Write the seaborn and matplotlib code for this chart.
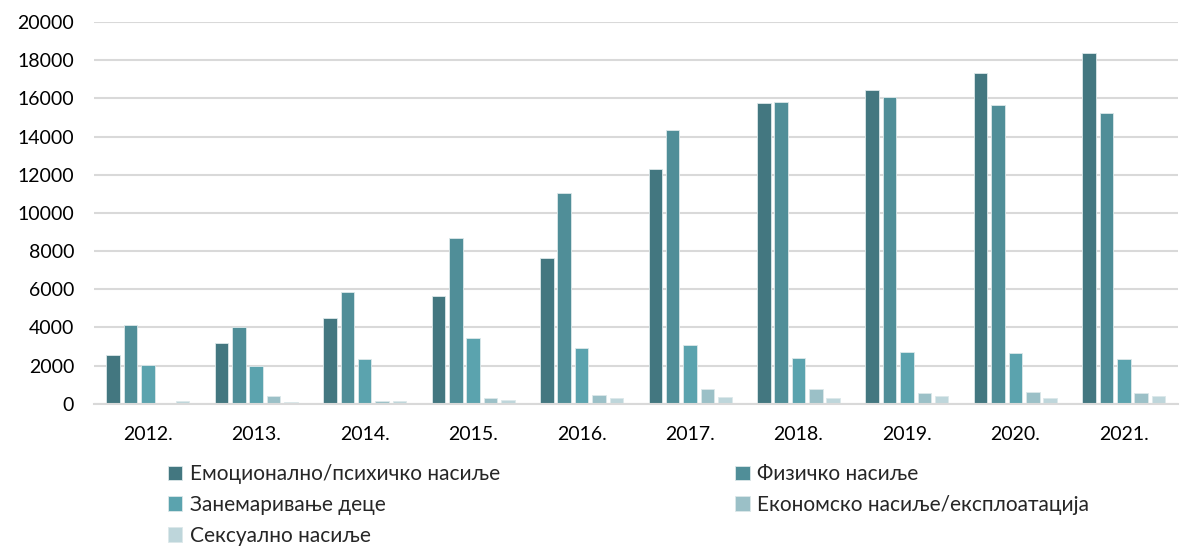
import pandas as pd
import numpy as np
import matplotlib
matplotlib.use("Agg")
import matplotlib.pyplot as plt
import seaborn as sns

years = ["2012.", "2013.", "2014.", "2015.", "2016.", "2017.", "2018.", "2019.", "2020.", "2021."]
types = ["Емоционално/психичко насиље", "Физичко насиље", "Занемаривање деце",
         "Економско насиље/експлоатација", "Сексуално насиље"]

emotional = [2570, 3210, 4520, 5640, 7640, 12290, 15740, 16420, 17330, 18360]
physical = [4140, 4015, 5860, 8690, 11030, 14345, 15810, 16060, 15650, 15220]
neglect = [2040, 2005, 2355, 3470, 2915, 3070, 2410, 2705, 2670, 2340]
economic = [0, 400, 160, 300, 440, 770, 785, 590, 630, 560]
sexual = [150, 120, 160, 200, 310, 350, 310, 420, 330, 435]

colors = ["#437780", "#508e98", "#5ba3ae", "#9bc0c7", "#bed6db"]

# long format for seaborn
series = [emotional, physical, neglect, economic, sexual]
rows = []
for t, vals in zip(types, series):
    for y, v in zip(years, vals):
        rows.append({"year": y, "type": t, "value": v})
df = pd.DataFrame(rows)

sns.set_style("white")
plt.rcParams["font.family"] = ["Lato", "DejaVu Sans"]

fig = plt.figure(figsize=(11.84, 5.48), dpi=100)
ax = fig.add_axes([0.079, 0.263, 0.916, 0.697])

sns.barplot(data=df, x="year", y="value", hue="type", hue_order=types,
            palette=colors, saturation=1, gap=0.22, edgecolor="#dce8ea",
            linewidth=0.6, ax=ax, legend=True)

ax.set_ylim(0, 20000)
ax.set_xlim(-0.5, 9.5)
ax.set_yticks(np.arange(0, 20001, 2000))
ax.yaxis.grid(True, color="#d9d9d9", linewidth=1.5)
ax.set_axisbelow(True)
for s in ["top", "right", "left"]:
    ax.spines[s].set_visible(False)
ax.spines["bottom"].set_color("#d9d9d9")
ax.spines["bottom"].set_linewidth(1.5)
ax.tick_params(axis="both", length=0, labelsize=14, colors="#000000")
ax.tick_params(axis="x", pad=16)
ax.tick_params(axis="y", pad=14)
ax.set_xlabel("")
ax.set_ylabel("")

handles, labels = ax.get_legend_handles_labels()
ax.get_legend().remove()

leg_kw = dict(frameon=False, fontsize=15, handlelength=0.7, handleheight=0.7,
              handletextpad=0.35, labelspacing=0.52, borderpad=0, loc="upper left")
fig.legend([handles[0], handles[2], handles[4]], [labels[0], labels[2], labels[4]],
           bbox_to_anchor=(0.133, 0.172), **leg_kw)
fig.legend([handles[1], handles[3]], [labels[1], labels[3]],
           bbox_to_anchor=(0.612, 0.172), **leg_kw)

plt.savefig("out.png", dpi=100)
